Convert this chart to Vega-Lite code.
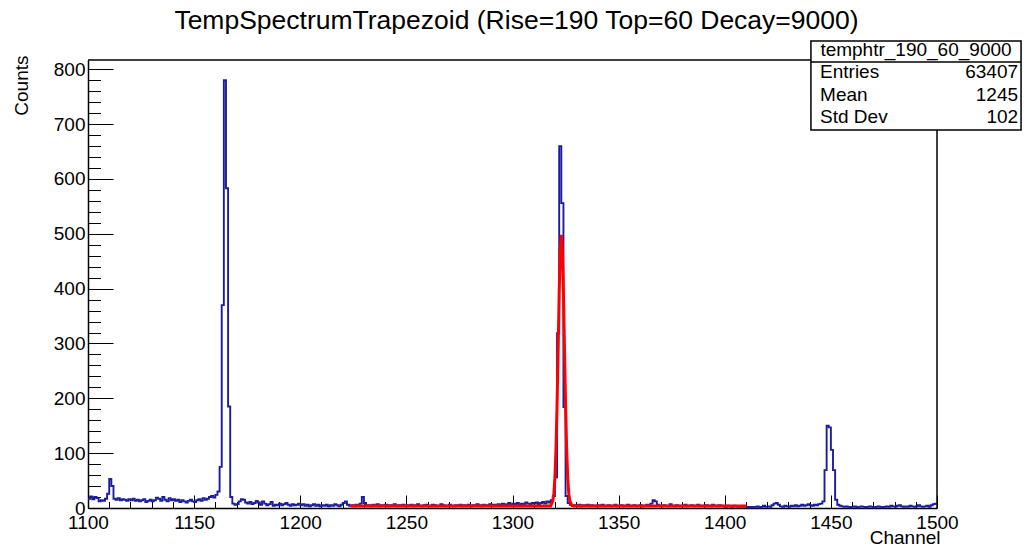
{
"$schema": "https://vega.github.io/schema/vega-lite/v6.json",
"width": 849, "height": 448,
"autosize": "none",
"padding": {"left": 88, "top": 60, "right": 91, "bottom": 40},
"background": "white",
"config": {"view": {"stroke": null}, "font": "Liberation Sans", "text": {"font": "Liberation Sans"}},
"title": {"text": "TempSpectrumTrapezoid (Rise=190 Top=60 Decay=9000)", "fontSize": 26.5, "fontWeight": "normal", "font": "Liberation Sans", "color": "black", "anchor": "middle", "frame": "group", "baseline": "alphabetic", "offset": -15, "dx": 4},
"resolve": {"axis": {"x": "independent", "y": "independent"}},
"datasets": {
"h": [
{"c":1100,"n":17},{"c":1101,"n":21},{"c":1102,"n":16},{"c":1103,"n":20},{"c":1104,"n":18},{"c":1105,"n":12},{"c":1106,"n":14},{"c":1107,"n":13},{"c":1108,"n":17},{"c":1109,"n":26},
{"c":1110,"n":53},{"c":1111,"n":40},{"c":1112,"n":17},{"c":1113,"n":15},{"c":1114,"n":18},{"c":1115,"n":14},{"c":1116,"n":16},{"c":1117,"n":15},{"c":1118,"n":13},{"c":1119,"n":16},
{"c":1120,"n":14},{"c":1121,"n":17},{"c":1122,"n":13},{"c":1123,"n":15},{"c":1124,"n":12},{"c":1125,"n":14},{"c":1126,"n":16},{"c":1127,"n":11},{"c":1128,"n":13},{"c":1129,"n":15},
{"c":1130,"n":12},{"c":1131,"n":14},{"c":1132,"n":19},{"c":1133,"n":17},{"c":1134,"n":13},{"c":1135,"n":20},{"c":1136,"n":15},{"c":1137,"n":12},{"c":1138,"n":18},{"c":1139,"n":14},
{"c":1140,"n":16},{"c":1141,"n":13},{"c":1142,"n":15},{"c":1143,"n":11},{"c":1144,"n":14},{"c":1145,"n":12},{"c":1146,"n":10},{"c":1147,"n":13},{"c":1148,"n":15},{"c":1149,"n":12},
{"c":1150,"n":11},{"c":1151,"n":14},{"c":1152,"n":16},{"c":1153,"n":13},{"c":1154,"n":18},{"c":1155,"n":15},{"c":1156,"n":17},{"c":1157,"n":20},{"c":1158,"n":22},{"c":1159,"n":19},
{"c":1160,"n":24},{"c":1161,"n":30},{"c":1162,"n":75},{"c":1163,"n":370},{"c":1164,"n":780},{"c":1165,"n":583},{"c":1166,"n":185},{"c":1167,"n":20},{"c":1168,"n":8},{"c":1169,"n":6},
{"c":1170,"n":7},{"c":1171,"n":12},{"c":1172,"n":16},{"c":1173,"n":15},{"c":1174,"n":10},{"c":1175,"n":8},{"c":1176,"n":11},{"c":1177,"n":7},{"c":1178,"n":9},{"c":1179,"n":13},
{"c":1180,"n":10},{"c":1181,"n":6},{"c":1182,"n":12},{"c":1183,"n":8},{"c":1184,"n":5},{"c":1185,"n":7},{"c":1186,"n":11},{"c":1187,"n":4},{"c":1188,"n":6},{"c":1189,"n":5},
{"c":1190,"n":8},{"c":1191,"n":5},{"c":1192,"n":7},{"c":1193,"n":9},{"c":1194,"n":6},{"c":1195,"n":4},{"c":1196,"n":7},{"c":1197,"n":5},{"c":1198,"n":6},{"c":1199,"n":8},
{"c":1200,"n":5},{"c":1201,"n":7},{"c":1202,"n":4},{"c":1203,"n":6},{"c":1204,"n":3},{"c":1205,"n":5},{"c":1206,"n":7},{"c":1207,"n":4},{"c":1208,"n":6},{"c":1209,"n":3},
{"c":1210,"n":5},{"c":1211,"n":4},{"c":1212,"n":6},{"c":1213,"n":3},{"c":1214,"n":5},{"c":1215,"n":4},{"c":1216,"n":7},{"c":1217,"n":5},{"c":1218,"n":3},{"c":1219,"n":6},
{"c":1220,"n":9},{"c":1221,"n":12},{"c":1222,"n":6},{"c":1223,"n":4},{"c":1224,"n":5},{"c":1225,"n":3},{"c":1226,"n":6},{"c":1227,"n":4},{"c":1228,"n":8},{"c":1229,"n":20},
{"c":1230,"n":9},{"c":1231,"n":4},{"c":1232,"n":5},{"c":1233,"n":3},{"c":1234,"n":6},{"c":1235,"n":4},{"c":1236,"n":7},{"c":1237,"n":3},{"c":1238,"n":5},{"c":1239,"n":4},
{"c":1240,"n":6},{"c":1241,"n":3},{"c":1242,"n":5},{"c":1243,"n":4},{"c":1244,"n":7},{"c":1245,"n":3},{"c":1246,"n":5},{"c":1247,"n":4},{"c":1248,"n":6},{"c":1249,"n":3},
{"c":1250,"n":5},{"c":1251,"n":4},{"c":1252,"n":6},{"c":1253,"n":3},{"c":1254,"n":5},{"c":1255,"n":7},{"c":1256,"n":4},{"c":1257,"n":3},{"c":1258,"n":5},{"c":1259,"n":6},
{"c":1260,"n":4},{"c":1261,"n":3},{"c":1262,"n":6},{"c":1263,"n":5},{"c":1264,"n":3},{"c":1265,"n":4},{"c":1266,"n":7},{"c":1267,"n":5},{"c":1268,"n":3},{"c":1269,"n":4},
{"c":1270,"n":6},{"c":1271,"n":4},{"c":1272,"n":3},{"c":1273,"n":5},{"c":1274,"n":4},{"c":1275,"n":6},{"c":1276,"n":3},{"c":1277,"n":5},{"c":1278,"n":4},{"c":1279,"n":6},
{"c":1280,"n":3},{"c":1281,"n":5},{"c":1282,"n":4},{"c":1283,"n":7},{"c":1284,"n":5},{"c":1285,"n":3},{"c":1286,"n":6},{"c":1287,"n":4},{"c":1288,"n":5},{"c":1289,"n":7},
{"c":1290,"n":5},{"c":1291,"n":6},{"c":1292,"n":4},{"c":1293,"n":7},{"c":1294,"n":5},{"c":1295,"n":8},{"c":1296,"n":6},{"c":1297,"n":7},{"c":1298,"n":9},{"c":1299,"n":6},
{"c":1300,"n":8},{"c":1301,"n":7},{"c":1302,"n":9},{"c":1303,"n":6},{"c":1304,"n":8},{"c":1305,"n":7},{"c":1306,"n":10},{"c":1307,"n":8},{"c":1308,"n":7},{"c":1309,"n":9},
{"c":1310,"n":8},{"c":1311,"n":10},{"c":1312,"n":7},{"c":1313,"n":9},{"c":1314,"n":11},{"c":1315,"n":8},{"c":1316,"n":12},{"c":1317,"n":10},{"c":1318,"n":14},{"c":1319,"n":22},
{"c":1320,"n":56},{"c":1321,"n":319},{"c":1322,"n":660},{"c":1323,"n":556},{"c":1324,"n":184},{"c":1325,"n":22},{"c":1326,"n":9},{"c":1327,"n":6},{"c":1328,"n":4},{"c":1329,"n":5},
{"c":1330,"n":4},{"c":1331,"n":6},{"c":1332,"n":3},{"c":1333,"n":5},{"c":1334,"n":4},{"c":1335,"n":6},{"c":1336,"n":3},{"c":1337,"n":5},{"c":1338,"n":4},{"c":1339,"n":3},
{"c":1340,"n":5},{"c":1341,"n":4},{"c":1342,"n":6},{"c":1343,"n":3},{"c":1344,"n":4},{"c":1345,"n":5},{"c":1346,"n":3},{"c":1347,"n":4},{"c":1348,"n":6},{"c":1349,"n":3},
{"c":1350,"n":4},{"c":1351,"n":5},{"c":1352,"n":3},{"c":1353,"n":4},{"c":1354,"n":6},{"c":1355,"n":3},{"c":1356,"n":4},{"c":1357,"n":5},{"c":1358,"n":3},{"c":1359,"n":4},
{"c":1360,"n":5},{"c":1361,"n":3},{"c":1362,"n":4},{"c":1363,"n":6},{"c":1364,"n":4},{"c":1365,"n":8},{"c":1366,"n":14},{"c":1367,"n":12},{"c":1368,"n":6},{"c":1369,"n":4},
{"c":1370,"n":3},{"c":1371,"n":5},{"c":1372,"n":4},{"c":1373,"n":3},{"c":1374,"n":7},{"c":1375,"n":4},{"c":1376,"n":3},{"c":1377,"n":5},{"c":1378,"n":4},{"c":1379,"n":3},
{"c":1380,"n":4},{"c":1381,"n":6},{"c":1382,"n":3},{"c":1383,"n":4},{"c":1384,"n":5},{"c":1385,"n":3},{"c":1386,"n":4},{"c":1387,"n":6},{"c":1388,"n":3},{"c":1389,"n":4},
{"c":1390,"n":3},{"c":1391,"n":5},{"c":1392,"n":4},{"c":1393,"n":3},{"c":1394,"n":6},{"c":1395,"n":4},{"c":1396,"n":3},{"c":1397,"n":5},{"c":1398,"n":4},{"c":1399,"n":3},
{"c":1400,"n":2},{"c":1401,"n":4},{"c":1402,"n":3},{"c":1403,"n":2},{"c":1404,"n":4},{"c":1405,"n":3},{"c":1406,"n":2},{"c":1407,"n":3},{"c":1408,"n":2},{"c":1409,"n":3},
{"c":1410,"n":2},{"c":1411,"n":1},{"c":1412,"n":2},{"c":1413,"n":1},{"c":1414,"n":2},{"c":1415,"n":3},{"c":1416,"n":1},{"c":1417,"n":2},{"c":1418,"n":4},{"c":1419,"n":2},
{"c":1420,"n":3},{"c":1421,"n":2},{"c":1422,"n":5},{"c":1423,"n":8},{"c":1424,"n":9},{"c":1425,"n":6},{"c":1426,"n":3},{"c":1427,"n":2},{"c":1428,"n":4},{"c":1429,"n":3},
{"c":1430,"n":2},{"c":1431,"n":4},{"c":1432,"n":3},{"c":1433,"n":5},{"c":1434,"n":3},{"c":1435,"n":4},{"c":1436,"n":6},{"c":1437,"n":4},{"c":1438,"n":5},{"c":1439,"n":7},
{"c":1440,"n":5},{"c":1441,"n":4},{"c":1442,"n":6},{"c":1443,"n":5},{"c":1444,"n":7},{"c":1445,"n":8},{"c":1446,"n":12},{"c":1447,"n":69},{"c":1448,"n":150},{"c":1449,"n":147},
{"c":1450,"n":106},{"c":1451,"n":69},{"c":1452,"n":15},{"c":1453,"n":6},{"c":1454,"n":4},{"c":1455,"n":3},{"c":1456,"n":2},{"c":1457,"n":3},{"c":1458,"n":2},{"c":1459,"n":1},
{"c":1460,"n":2},{"c":1461,"n":3},{"c":1462,"n":1},{"c":1463,"n":2},{"c":1464,"n":3},{"c":1465,"n":2},{"c":1466,"n":1},{"c":1467,"n":2},{"c":1468,"n":3},{"c":1469,"n":2},
{"c":1470,"n":1},{"c":1471,"n":2},{"c":1472,"n":3},{"c":1473,"n":2},{"c":1474,"n":1},{"c":1475,"n":2},{"c":1476,"n":3},{"c":1477,"n":2},{"c":1478,"n":4},{"c":1479,"n":3},
{"c":1480,"n":2},{"c":1481,"n":4},{"c":1482,"n":5},{"c":1483,"n":3},{"c":1484,"n":2},{"c":1485,"n":3},{"c":1486,"n":2},{"c":1487,"n":4},{"c":1488,"n":3},{"c":1489,"n":2},
{"c":1490,"n":3},{"c":1491,"n":5},{"c":1492,"n":3},{"c":1493,"n":2},{"c":1494,"n":3},{"c":1495,"n":4},{"c":1496,"n":2},{"c":1497,"n":5},{"c":1498,"n":7},{"c":1499,"n":8},
{"c":1500,"n":8}
],
"fit": [
{"c":1223.5,"f":3.5},{"c":1318,"f":3.8},{"c":1319,"f":13},{"c":1319.5,"f":27},{"c":1320,"f":57},{"c":1320.5,"f":110},{"c":1321,"f":189},{"c":1321.5,"f":288},{"c":1322,"f":393},{"c":1322.5,"f":471},{"c":1323,"f":498},{"c":1323.5,"f":471},{"c":1324,"f":393},{"c":1324.5,"f":288},{"c":1325,"f":189},{"c":1325.5,"f":110},{"c":1326,"f":57},{"c":1326.5,"f":27},{"c":1327,"f":13},{"c":1328,"f":4.5},{"c":1329,"f":3.6},{"c":1410.3,"f":3.5}
]
},
"layer": [
{
"data": {"name": "h"},
"mark": {"type": "line", "interpolate": "step-after", "color": "#1c1c9c", "strokeWidth": 1.9},
"encoding": {
"x": {"field": "c", "type": "quantitative",
 "scale": {"domain": [1100, 1500], "nice": false, "zero": false},
 "axis": {"orient": "bottom", "values": [1100,1150,1200,1250,1300,1350,1400,1450,1500],
  "format": "d", "labelOverlap": false, "labelFlush": false, "labelFontSize": 19, "labelColor": "black", "labelPadding": 18,
  "tickSize": -13, "tickColor": "black", "tickWidth": 1, "domainColor": "black", "domainWidth": 1.5, "grid": false,
  "title": "Channel", "titleFontSize": 19, "titleFontWeight": "normal", "titleColor": "black", "titleAlign": "right", "titleAnchor": "end", "titleBaseline": "alphabetic", "titleX": 852, "titleY": 35}},
"y": {"field": "n", "type": "quantitative",
 "scale": {"domain": [0, 817], "nice": false},
 "axis": {"orient": "left", "values": [0,100,200,300,400,500,600,700,800],
  "format": "d", "labelOverlap": false, "labelFlush": false, "labelFontSize": 19, "labelColor": "black", "labelPadding": 28,
  "tickSize": -25, "tickColor": "black", "tickWidth": 1, "domainColor": "black", "domainWidth": 1.5, "grid": false,
  "title": "Counts", "titleFontSize": 19, "titleFontWeight": "normal", "titleColor": "black", "titleAngle": 270, "titleAlign": "right", "titleAnchor": "end", "titleBaseline": "middle", "titleX": -67, "titleY": -5}}
}
},
{
"data": {"name": "fit"},
"mark": {"type": "line", "color": "#ff0000", "strokeWidth": 3},
"encoding": {
"x": {"field": "c", "type": "quantitative",
 "axis": {"orient": "bottom", "values": [1110,1120,1130,1140,1160,1170,1180,1190,1210,1220,1230,1240,1260,1270,1280,1290,1310,1320,1330,1340,1360,1370,1380,1390,1410,1420,1430,1440,1460,1470,1480,1490],
  "labels": false, "domain": false, "grid": false, "title": null, "tickSize": -6.5, "tickColor": "black", "tickWidth": 1}},
"y": {"field": "f", "type": "quantitative",
 "axis": {"orient": "left", "values": [20,40,60,80,120,140,160,180,220,240,260,280,320,340,360,380,420,440,460,480,520,540,560,580,620,640,660,680,720,740,760,780],
  "labels": false, "domain": false, "grid": false, "title": null, "tickSize": -12.5, "tickColor": "black", "tickWidth": 1}}
}
},
{
"data": {"values": [{}]},
"mark": {"type": "rule", "color": "black", "strokeWidth": 1.5},
"encoding": {"x": {"datum": 1100, "axis": null}, "x2": {"datum": 1500}, "y": {"datum": 817, "axis": null}}
},
{
"data": {"values": [{}]},
"mark": {"type": "rule", "color": "black", "strokeWidth": 1.5},
"encoding": {"x": {"datum": 1500, "axis": null}, "y": {"datum": 0, "axis": null}, "y2": {"datum": 817}}
},
{
"data": {"values": [{}]},
"mark": {"type": "rect", "fill": "white", "stroke": "black", "strokeWidth": 1.5},
"encoding": {"x": {"datum": 1440.6, "axis": null}, "x2": {"datum": 1539.6}, "y": {"datum": 851.6, "axis": null}, "y2": {"datum": 689.3}}
},
{
"data": {"values": [{}]},
"mark": {"type": "rule", "color": "black", "strokeWidth": 1.5},
"encoding": {"x": {"datum": 1440.6, "axis": null}, "x2": {"datum": 1539.6}, "y": {"datum": 813.3, "axis": null}}
},
{
"data": {"values": [{}]},
"mark": {"type": "text", "text": "temphtr_190_60_9000", "fontSize": 19, "align": "center", "baseline": "middle", "color": "black"},
"encoding": {"x": {"datum": 1490.1, "axis": null}, "y": {"datum": 835.5, "axis": null}}
},
{
"data": {"values": [{}]},
"mark": {"type": "text", "text": ["Entries", "Mean", "Std Dev"], "lineHeight": 22.5, "fontSize": 19, "align": "left", "baseline": "middle", "color": "black"},
"encoding": {"x": {"datum": 1444.9, "axis": null}, "y": {"datum": 795.1, "axis": null}}
},
{
"data": {"values": [{}]},
"mark": {"type": "text", "text": ["63407", "1245", "102"], "lineHeight": 22.5, "fontSize": 19, "align": "right", "baseline": "middle", "color": "black"},
"encoding": {"x": {"datum": 1538.2, "axis": null}, "y": {"datum": 795.1, "axis": null}}
}
]
}
